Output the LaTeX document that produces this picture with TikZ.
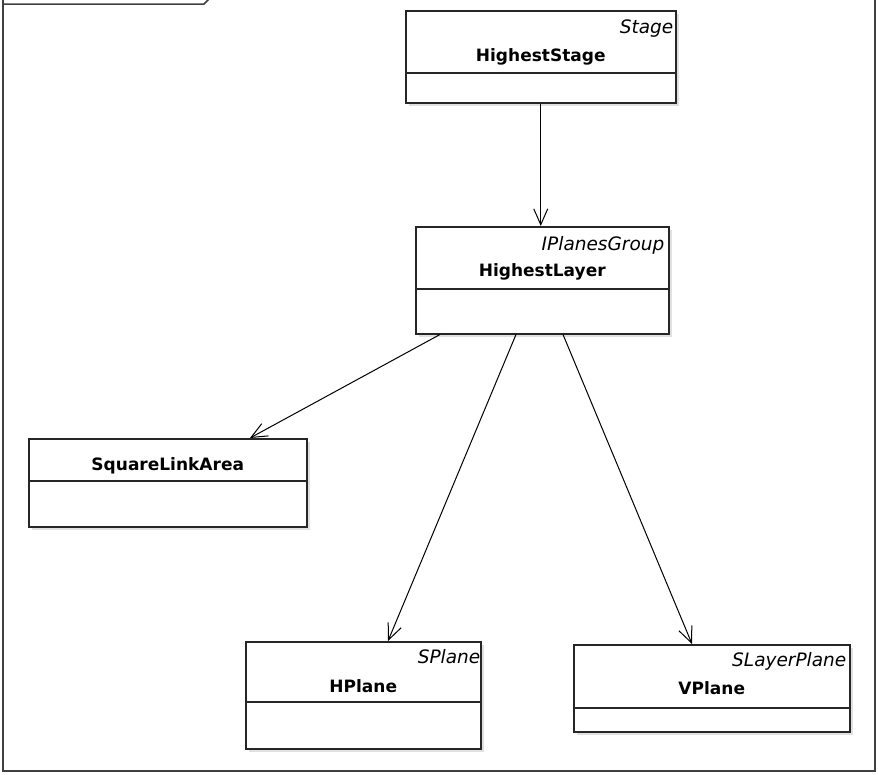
\documentclass[tikz,border=0pt]{standalone}
\usepackage{fontspec}
\setmainfont{DejaVu Sans}
\usetikzlibrary{arrows.meta,calc,shadows}
\tikzset{
  classbox/.style={draw=black!85, line width=1.5pt, fill=white, anchor=north west, inner sep=0pt,
    drop shadow={shadow xshift=3pt, shadow yshift=-3pt, fill=black!12, opacity=1}},
  cname/.style={font=\fontsize{17}{20}\selectfont\bfseries, anchor=base, inner sep=0pt},
  stereo/.style={font=\fontsize{18.5}{22}\selectfont\itshape, anchor=base east, inner sep=0pt},
  assoc/.style={-{Straight Barb[length=16pt,width=14pt]}, line width=1pt},
}

\begin{document}
\begin{tikzpicture}[x=1pt,y=-1pt]
    \useasboundingbox (0,0) rectangle (878,774);
    % frame
    \draw[black!75,line width=1.5pt] (3,-2) -- (3,771) -- (875,771) -- (875,-2);
    \draw[black!75,line width=1.5pt] (3,4) -- (204,4) -- (209,-1);
    % classes
    \node[classbox,minimum width=270pt,minimum height=92pt] (stage) at (405,10) {};
    \node[classbox,minimum width=253pt,minimum height=107pt] (layer) at (415,226) {};
    \node[classbox,minimum width=278pt,minimum height=88pt] (area) at (28,438) {};
    \node[classbox,minimum width=235pt,minimum height=107pt] (hplane) at (245,641) {};
    \node[classbox,minimum width=276pt,minimum height=87pt] (vplane) at (573,644) {};
    \draw[line width=1.5pt,black!85] ($(stage.north west)+(0,63)$) -- ($(stage.north east)+(0,63)$);
    \draw[line width=1.5pt,black!85] ($(layer.north west)+(0,63)$) -- ($(layer.north east)+(0,63)$);
    \draw[line width=1.5pt,black!85] ($(area.north west)+(0,43)$) -- ($(area.north east)+(0,43)$);
    \draw[line width=1.5pt,black!85] ($(hplane.north west)+(0,61)$) -- ($(hplane.north east)+(0,61)$);
    \draw[line width=1.5pt,black!85] ($(vplane.north west)+(0,64)$) -- ($(vplane.north east)+(0,64)$);
    \node[stereo] (stageS) at ($(stage.north east)+(-3,23)$) {Stage};
    \node[cname] (stageN) at ($(stage.north)+(0,51)$) {HighestStage};
    \node[stereo] (layerS) at ($(layer.north east)+(-5,24)$) {IPlanesGroup};
    \node[cname] (layerN) at ($(layer.north)+(0,50)$) {HighestLayer};
    \node[cname] (areaN) at ($(area.north)+(0,32)$) {SquareLinkArea};
    \node[stereo] (hplaneS) at ($(hplane.north east)+(-1,22)$) {SPlane};
    \node[cname] (hplaneN) at ($(hplane.north)+(0,51)$) {HPlane};
    \node[stereo] (vplaneS) at ($(vplane.north east)+(-4,22)$) {SLayerPlane};
    \node[cname] (vplaneN) at ($(vplane.north)+(0,50)$) {VPlane};
    % associations
    \coordinate (l1) at ($(layer.south west)+(25,0)$);
    \coordinate (l2) at ($(layer.south west)+(101,0)$);
    \coordinate (l3) at ($(layer.south west)+(148,0)$);
    \coordinate (a1) at ($(area.north west)+(222,0)$);
    \coordinate (h1) at ($(hplane.north west)+(143,0)$);
    \coordinate (v1) at ($(vplane.north west)+(119,0)$);
    \draw[assoc] (stage.south) -- (stage.south |- layer.north);
    \draw[assoc] (l1) -- (a1);
    \draw[assoc] (l2) -- (h1);
    \draw[assoc] (l3) -- (v1);
\end{tikzpicture}
\end{document}
